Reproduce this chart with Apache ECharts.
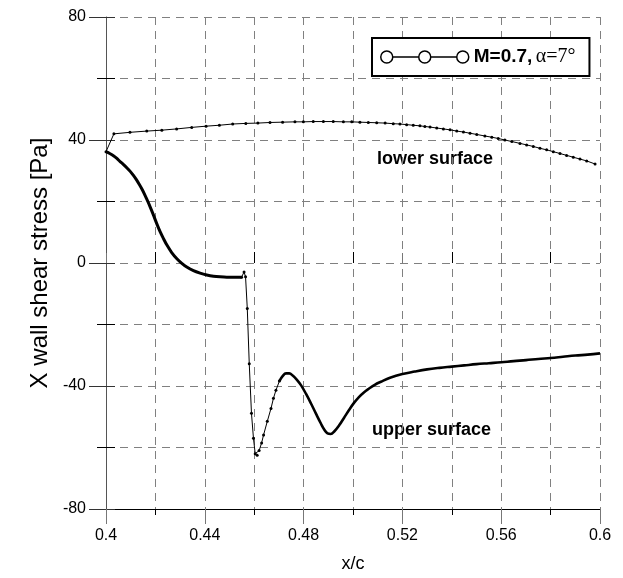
<!DOCTYPE html>
<html>
<head>
<meta charset="utf-8">
<script src="https://cdn.jsdelivr.net/npm/echarts@6/dist/echarts.min.js"></script>
<style>html,body{margin:0;padding:0;background:#fff}#c{width:623px;height:578px}</style>
</head>
<body>
<div id="c"></div>
<script>
// ---- data ----
var caseName = 'M=0.7, α=7°';
var xTicks = [0.4, 0.44, 0.48, 0.52, 0.56, 0.6];
var yTicks = [-80, -40, 0, 40, 80];

var lowerX = [0.4000,0.4032,0.4097,0.4165,0.4226,0.4286,0.4347,0.4405,0.4459,0.4513,0.4566,0.4615,0.4664,0.4715,0.4765,
  0.4799,0.4839,0.4880,0.4920,0.4961,0.4995,0.5028,0.5062,0.5096,0.5130,0.5163,0.5190,0.5217,0.5244,0.5271,0.5291,0.5312,
  0.5339,0.5366,0.5393,0.5420,0.5447,0.5474,0.5501,0.5534,0.5562,0.5588,0.5615,0.5643,0.5676,0.5703,0.5730,0.5757,0.5784,
  0.5811,0.5838,0.5865,0.5892,0.5919,0.5946,0.5980];
var lowerY = [36.2,42.0,42.5,42.9,43.2,43.6,44.1,44.5,44.8,45.2,45.4,45.5,45.7,45.8,45.9,
  45.9,46.0,46.0,46.0,45.9,45.9,45.8,45.7,45.6,45.5,45.3,45.2,45.0,44.8,44.6,44.4,44.2,
  43.9,43.6,43.3,42.9,42.6,42.2,41.8,41.3,40.9,40.5,40.0,39.5,38.9,38.4,37.9,37.3,36.8,
  36.2,35.6,35.0,34.4,33.8,33.2,32.2];

var upperAX = [0.4000,0.4015,0.4030,0.4044,0.4057,0.4071,0.4085,0.4098,0.4111,0.4123,0.4135,0.4147,0.4158,0.4175,0.4191,
  0.4205,0.4219,0.4233,0.4246,0.4266,0.4287,0.4307,0.4327,0.4354,0.4381,0.4408,0.4435,0.4462,0.4489,0.4519,0.4549];
var upperAY = [36.2,35.6,34.9,34.0,33.0,32.0,30.9,29.8,28.5,27.1,25.5,23.8,22.0,19.0,15.8,
  12.9,10.2,7.9,5.9,3.4,1.4,-0.1,-1.3,-2.5,-3.3,-3.9,-4.3,-4.5,-4.6,-4.6,-4.6];

var shockX = [0.4549,0.4559,0.4565,0.4572,0.4580,0.4589,0.4597,0.4604,0.4612,0.4620,0.4630,0.4638,0.4653,0.4668,0.4678,0.4688,0.4702];
var shockY = [-4.6,-2.9,-4.5,-14.8,-32.8,-48.9,-57.0,-62.0,-62.5,-61.0,-58.5,-55.9,-51.5,-47.3,-44.0,-41.4,-38.4];

var upperBX = [0.4702,0.4715,0.4729,0.4742,0.4756,0.4773,0.4790,0.4810,0.4830,0.4850,0.4870,0.4884,0.4897,0.4910,0.4924,
  0.4944,0.4964,0.4984,0.5004,0.5024,0.5044,0.5064,0.5088,0.5113,0.515,0.520,0.525,0.530,0.535,0.540,0.545,0.550,0.555,0.560,
  0.565,0.570,0.575,0.580,0.585,0.590,0.595,0.600];
var upperBY = [-38.4,-36.8,-35.9,-35.9,-36.6,-38.0,-39.8,-42.6,-45.7,-49.0,-52.2,-54.2,-55.4,-55.6,-54.8,
  -52.8,-50.3,-47.8,-45.5,-43.6,-42.1,-40.9,-39.6,-38.6,-37.3,-36.1,-35.3,-34.6,-34.1,-33.7,-33.3,-32.9,-32.6,-32.3,
  -31.9,-31.6,-31.2,-30.9,-30.5,-30.1,-29.8,-29.4];

var labelLower = 'lower surface';
var labelUpper = 'upper surface';

function pairs(xs, ys){ return xs.map(function(x,i){ return [x, ys[i]]; }); }

var chart = echarts.init(document.getElementById('c'), null, {renderer:'canvas'});
var FONT = 'Liberation Sans, Arial, sans-serif';
var gridLine = {show:true, lineStyle:{color:'#808080', type:[8,6], width:1}};
var legendIcon = 'path://M0 6A6 6 0 1 0 12 6A6 6 0 1 0 0 6ZM12 6L38 6M38 6A6 6 0 1 0 50 6A6 6 0 1 0 38 6ZM50 6L76 6M76 6A6 6 0 1 0 88 6A6 6 0 1 0 76 6Z';

var xMin = xTicks[0], xMax = xTicks[xTicks.length-1], xInt = xTicks[1]-xTicks[0];
var yMin = yTicks[0], yMax = yTicks[yTicks.length-1], yInt = yTicks[1]-yTicks[0];

var option = {
  animation: false,
  backgroundColor: '#fff',
  grid: {left:106, right:23, top:17, bottom:65, containLabel:false},
  legend: {
    left: 372, top: 38, selectedMode: false,
    padding: [9, 14, 9, 8],
    backgroundColor: '#fff', borderColor: '#000', borderWidth: 2, borderRadius: 0,
    itemWidth: 88, itemHeight: 12, itemGap: 0,
    data: [{name: caseName, icon: legendIcon,
            itemStyle: {color: 'rgba(0,0,0,0)', borderColor: '#000', borderWidth: 1.5}}],
    formatter: function(){ return '{b|M=0.7,} {a|α=7°}'; },
    textStyle: {rich: {
      b: {fontFamily: FONT, fontWeight: 'bold', fontSize: 19, color: '#000'},
      a: {fontFamily: 'Liberation Serif, DejaVu Serif, serif', fontSize: 20, color: '#000'}
    }}
  },
  xAxis: [{
    type: 'value', min: xMin, max: xMax, interval: xInt, position: 'bottom',
    name: 'x/c', nameLocation: 'middle', nameGap: 46,
    nameTextStyle: {fontFamily: FONT, fontSize: 18, color: '#000'},
    axisLine: {show: true, onZero: false, lineStyle: {color: '#000', width: 1}},
    axisTick: {show: true, inside: false, length: 15, lineStyle: {color: '#777'}},
    minorTick: {show: true, splitNumber: 2, length: 6, lineStyle: {color: '#000'}},
    axisLabel: {fontFamily: FONT, fontSize: 16, color: '#000', margin: 19,
      formatter: function(v){ return String(+v.toFixed(2)); }},
    splitLine: gridLine, minorSplitLine: gridLine
  }, {
    type: 'value', min: xMin, max: xMax, interval: xInt, position: 'bottom',
    axisLine: {show: false}, axisLabel: {show: false}, splitLine: {show: false},
    axisTick: {show: true, inside: true, length: 10, lineStyle: {color: '#777'}},
    minorTick: {show: true, splitNumber: 2, length: 11, lineStyle: {color: '#000'}}
  }],
  yAxis: [{
    type: 'value', min: yMin, max: yMax, interval: yInt, position: 'left',
    name: 'X wall shear stress [Pa]', nameLocation: 'middle', nameGap: 53,
    nameTextStyle: {fontFamily: FONT, fontSize: 24, color: '#000'},
    axisLine: {show: true, onZero: false, lineStyle: {color: '#555', width: 1}},
    axisTick: {show: true, inside: false, length: 17, lineStyle: {color: '#333'}},
    minorTick: {show: true, splitNumber: 2, length: 9, lineStyle: {color: '#000'}},
    axisLabel: {fontFamily: FONT, fontSize: 16, color: '#000', margin: 20},
    splitLine: gridLine, minorSplitLine: gridLine
  }, {
    type: 'value', min: yMin, max: yMax, interval: yInt, position: 'left',
    axisLine: {show: false}, axisLabel: {show: false}, splitLine: {show: false},
    axisTick: {show: true, inside: true, length: 9, lineStyle: {color: '#333'}},
    minorTick: {show: true, splitNumber: 2, length: 9, lineStyle: {color: '#000'}}
  }],
  graphic: [
    {type: 'text', x: 377, y: 159, style: {text: labelLower, font: 'bold 18px ' + FONT, fill: '#000', verticalAlign: 'middle', textVerticalAlign: 'middle'}},
    {type: 'text', x: 372, y: 430, style: {text: labelUpper, font: 'bold 18px ' + FONT, fill: '#000', verticalAlign: 'middle', textVerticalAlign: 'middle'}}
  ],
  series: [
    {name: caseName, type: 'line', data: pairs(lowerX, lowerY), symbol: 'circle', symbolSize: 3,
     itemStyle: {color: '#000'}, lineStyle: {color: '#000', width: 1}, z: 5},
    {name: caseName, type: 'line', data: pairs(upperAX, upperAY), showSymbol: false, smooth: 0.3,
     lineStyle: {color: '#000', width: 3}, z: 5},
    {name: caseName, type: 'line', data: pairs(shockX, shockY), symbol: 'circle', symbolSize: 3,
     itemStyle: {color: '#000'}, lineStyle: {color: '#000', width: 1}, z: 5},
    {name: caseName, type: 'line', data: pairs(upperBX, upperBY), showSymbol: false, smooth: 0.4,
     lineStyle: {color: '#000', width: 2.6}, z: 5}
  ]
};
chart.setOption(option);
</script>
</body>
</html>
